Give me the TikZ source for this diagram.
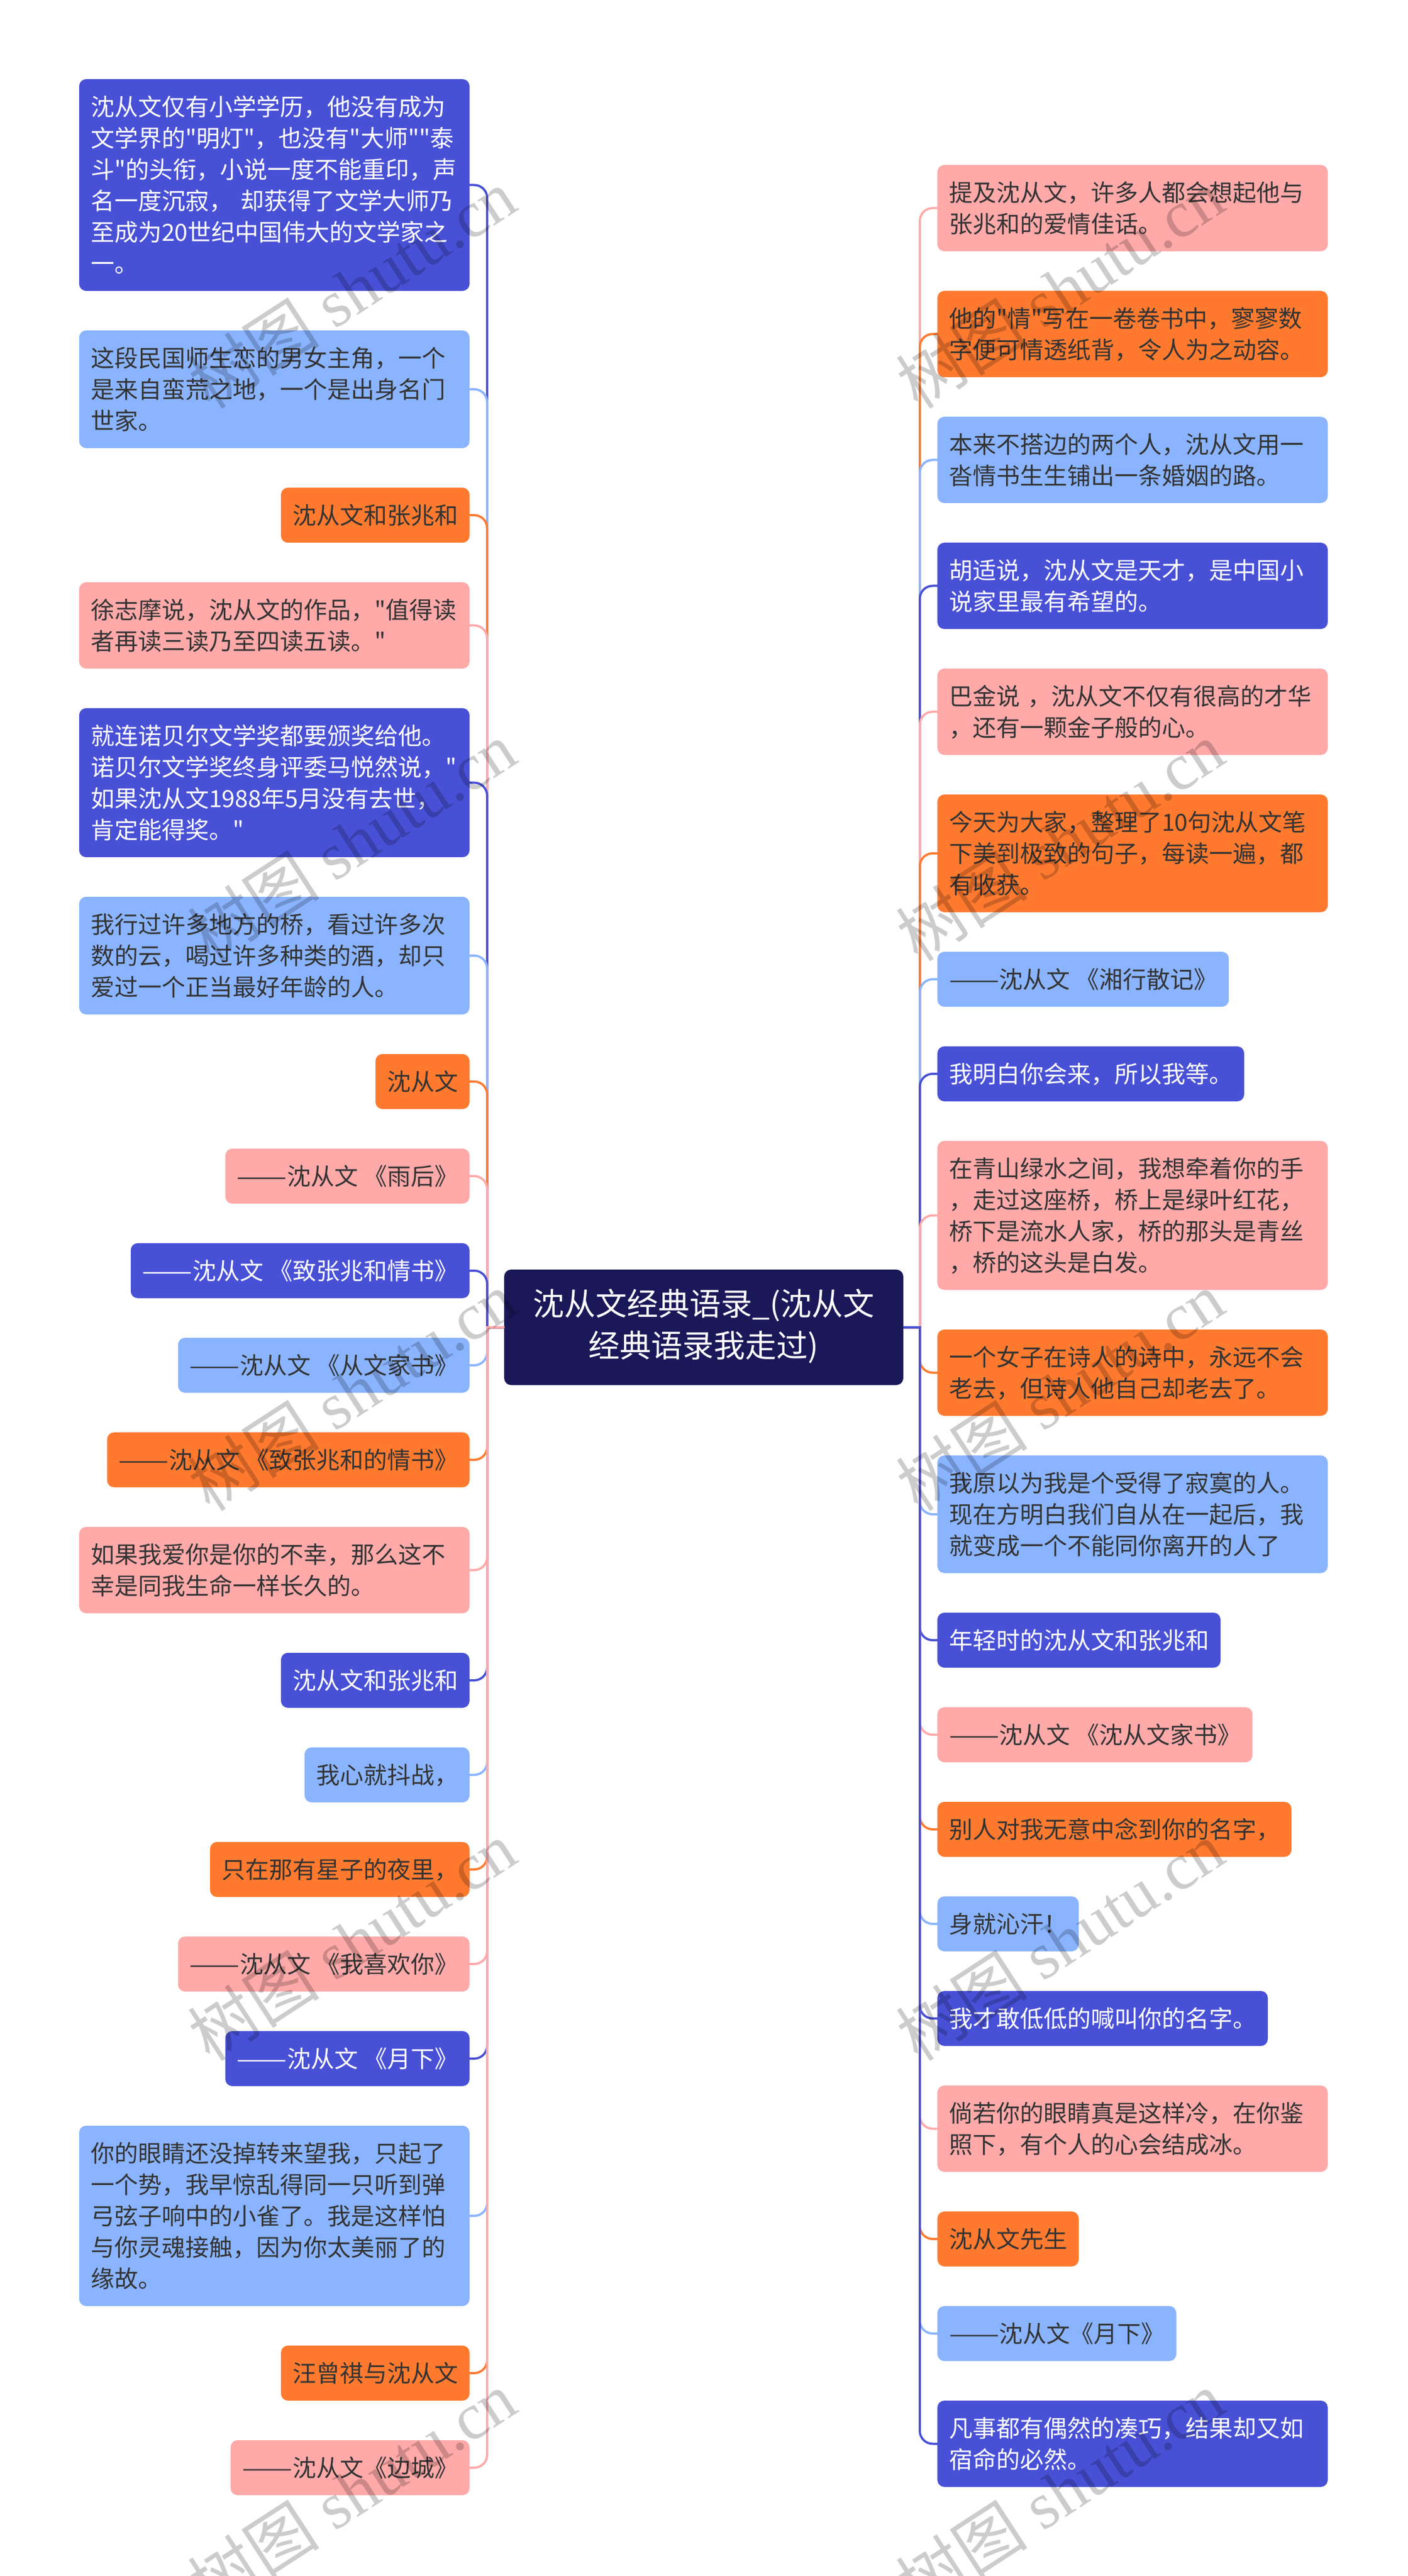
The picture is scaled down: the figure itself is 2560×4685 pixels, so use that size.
\documentclass[tikz,border=0pt]{standalone}
\usepackage{fontspec}
\usetikzlibrary{positioning}
\newfontfamily\zhfont{Noto Sans CJK SC}
\newfontfamily\markfont{Liberation Serif}
\newcommand{\longdash}{\scalebox{1.27}[1]{——}}
\definecolor{deep}{HTML}{4850D6}
\definecolor{sky}{HTML}{8AB4FF}
\definecolor{tang}{HTML}{FF7A2F}
\definecolor{rose}{HTML}{FFA9A9}
\definecolor{navy}{HTML}{1A1859}
\definecolor{ink}{HTML}{333333}
\tikzset{
  leaf/.style={rounded corners=3.8pt,outer sep=0pt,inner xsep=6.3pt,inner ysep=6.45pt,align=left,text=ink,minimum height=30pt,
    font=\zhfont\fontsize{12.9}{17.1}\selectfont,
    execute at begin node={\rule[-3.65pt]{0pt}{17.1pt}},
    execute at end node={\rule[-3.65pt]{0pt}{17.1pt}}},
  deepbox/.style={leaf,fill=deep,text=white},
  skybox/.style={leaf,fill=sky},
  tangbox/.style={leaf,fill=tang},
  rosebox/.style={leaf,fill=rose},
  full/.style={text width=200.4pt,minimum height=#1*17.1pt+12.9pt},
  ltop/.style={anchor=north east},
  rtop/.style={anchor=north west},
  lnext/.style={below=21.6pt of #1.south east,anchor=north east},
  rnext/.style={below=21.6pt of #1.south west,anchor=north west},
  link/.style={line width=1.2pt,color=#1},
  wmark/.style={rotate=33,text=black,opacity=.2,font=\markfont\fontsize{36}{40}\selectfont}
}
\begin{document}
\begin{tikzpicture}[x=.3pt,y=-.3pt]
  \useasboundingbox (0,0) rectangle (2560,4685);
  \coordinate (trunkL) at (886,0);
  \coordinate (trunkR) at (1673,0);

  \node[rounded corners=3.8pt,outer sep=0pt,fill=navy,text=white,align=center,minimum width=217.8pt,minimum height=63pt,
    font=\zhfont\fontsize{17.1}{22.8}\selectfont,
    execute at begin node={\rule[-4.9pt]{0pt}{22.8pt}},
    execute at end node={\rule[-4.9pt]{0pt}{22.8pt}}] (root) at (1280,2414)
    {沈从文经典语录\_(沈从文\\经典语录我走过)};

  \node[deepbox,full=6,ltop] (L1) at (854,144) {沈从文仅有小学学历，他没有成为\\文学界的"明灯"，也没有"大师""泰\\斗"的头衔，小说一度不能重印，声\\名一度沉寂， 却获得了文学大师乃\\至成为20世纪中国伟大的文学家之\\一。};
  \node[skybox,full=3,lnext=L1] (L2) {这段民国师生恋的男女主角，一个\\是来自蛮荒之地，一个是出身名门\\世家。};
  \node[tangbox,lnext=L2] (L3) {沈从文和张兆和};
  \node[rosebox,full=2,lnext=L3] (L4) {徐志摩说，沈从文的作品，"值得读\\者再读三读乃至四读五读。"};
  \node[deepbox,full=4,lnext=L4] (L5) {就连诺贝尔文学奖都要颁奖给他。\\诺贝尔文学奖终身评委马悦然说，"\\如果沈从文1988年5月没有去世，\\肯定能得奖。"};
  \node[skybox,full=3,lnext=L5] (L6) {我行过许多地方的桥，看过许多次\\数的云，喝过许多种类的酒，却只\\爱过一个正当最好年龄的人。};
  \node[tangbox,lnext=L6] (L7) {沈从文};
  \node[rosebox,lnext=L7] (L8) {\longdash 沈从文 《雨后》};
  \node[deepbox,lnext=L8] (L9) {\longdash 沈从文 《致张兆和情书》};
  \node[skybox,lnext=L9] (L10) {\longdash 沈从文 《从文家书》};
  \node[tangbox,lnext=L10] (L11) {\longdash 沈从文 《致张兆和的情书》};
  \node[rosebox,full=2,lnext=L11] (L12) {如果我爱你是你的不幸，那么这不\\幸是同我生命一样长久的。};
  \node[deepbox,lnext=L12] (L13) {沈从文和张兆和};
  \node[skybox,lnext=L13] (L14) {我心就抖战，};
  \node[tangbox,lnext=L14] (L15) {只在那有星子的夜里，};
  \node[rosebox,lnext=L15] (L16) {\longdash 沈从文 《我喜欢你》};
  \node[deepbox,lnext=L16] (L17) {\longdash 沈从文 《月下》};
  \node[skybox,full=5,lnext=L17] (L18) {你的眼睛还没掉转来望我，只起了\\一个势，我早惊乱得同一只听到弹\\弓弦子响中的小雀了。我是这样怕\\与你灵魂接触，因为你太美丽了的\\缘故。};
  \node[tangbox,lnext=L18] (L19) {汪曾祺与沈从文};
  \node[rosebox,lnext=L19] (L20) {\longdash 沈从文《边城》};

  \node[rosebox,full=2,rtop] (R1) at (1705,300) {提及沈从文，许多人都会想起他与\\张兆和的爱情佳话。};
  \node[tangbox,full=2,rnext=R1] (R2) {他的"情"写在一卷卷书中，寥寥数\\字便可情透纸背，令人为之动容。};
  \node[skybox,full=2,rnext=R2] (R3) {本来不搭边的两个人，沈从文用一\\沓情书生生铺出一条婚姻的路。};
  \node[deepbox,full=2,rnext=R3] (R4) {胡适说，沈从文是天才，是中国小\\说家里最有希望的。};
  \node[rosebox,full=2,rnext=R4] (R5) {巴金说 ，沈从文不仅有很高的才华\\，还有一颗金子般的心。};
  \node[tangbox,full=3,rnext=R5] (R6) {今天为大家，整理了10句沈从文笔\\下美到极致的句子，每读一遍，都\\有收获。};
  \node[skybox,rnext=R6] (R7) {\longdash 沈从文 《湘行散记》};
  \node[deepbox,rnext=R7] (R8) {我明白你会来，所以我等。};
  \node[rosebox,full=4,rnext=R8] (R9) {在青山绿水之间，我想牵着你的手\\，走过这座桥，桥上是绿叶红花，\\桥下是流水人家，桥的那头是青丝\\，桥的这头是白发。};
  \node[tangbox,full=2,rnext=R9] (R10) {一个女子在诗人的诗中，永远不会\\老去，但诗人他自己却老去了。};
  \node[skybox,full=3,rnext=R10] (R11) {我原以为我是个受得了寂寞的人。\\现在方明白我们自从在一起后，我\\就变成一个不能同你离开的人了};
  \node[deepbox,rnext=R11] (R12) {年轻时的沈从文和张兆和};
  \node[rosebox,rnext=R12] (R13) {\longdash 沈从文 《沈从文家书》};
  \node[tangbox,rnext=R13] (R14) {别人对我无意中念到你的名字，};
  \node[skybox,rnext=R14] (R15) {身就沁汗！};
  \node[deepbox,rnext=R15] (R16) {我才敢低低的喊叫你的名字。};
  \node[rosebox,full=2,rnext=R16] (R17) {倘若你的眼睛真是这样冷，在你鉴\\照下，有个人的心会结成冰。};
  \node[tangbox,rnext=R17] (R18) {沈从文先生};
  \node[skybox,rnext=R18] (R19) {\longdash 沈从文《月下》};
  \node[deepbox,full=2,rnext=R19] (R20) {凡事都有偶然的凑巧，结果却又如\\宿命的必然。};

  \foreach \n/\c in {L1/deep,L2/sky,L3/tang,L4/rose,L5/deep,L6/sky,L7/tang,L8/rose,L9/deep,L10/sky,
    L11/tang,L12/rose,L13/deep,L14/sky,L15/tang,L16/rose,L17/deep,L18/sky,L19/tang,L20/rose}
    \draw[link=\c] (root.west) -- (trunkL |- root.west) [rounded corners=7pt] -- (trunkL |- \n.east) -- (\n.east);
  \foreach \n/\c in {R1/rose,R2/tang,R3/sky,R4/deep,R5/rose,R6/tang,R7/sky,R8/deep,R9/rose,R10/tang,
    R11/sky,R12/deep,R13/rose,R14/tang,R15/sky,R16/deep,R17/rose,R18/tang,R19/sky,R20/deep}
    \draw[link=\c] (root.east) -- (trunkR |- root.east) [rounded corners=7pt] -- (trunkR |- \n.west) -- (\n.west);

  \foreach \i/\x/\y in {1/640/525,2/640/1530,3/640/2530,4/640/3530,5/640/4530,
    6/1928/525,7/1928/1530,8/1928/2530,9/1928/3530,10/1928/4530}
    \node[wmark] (wm\i) at (\x,\y) {{\zhfont 树图} shutu.cn};
\end{tikzpicture}
\end{document}
